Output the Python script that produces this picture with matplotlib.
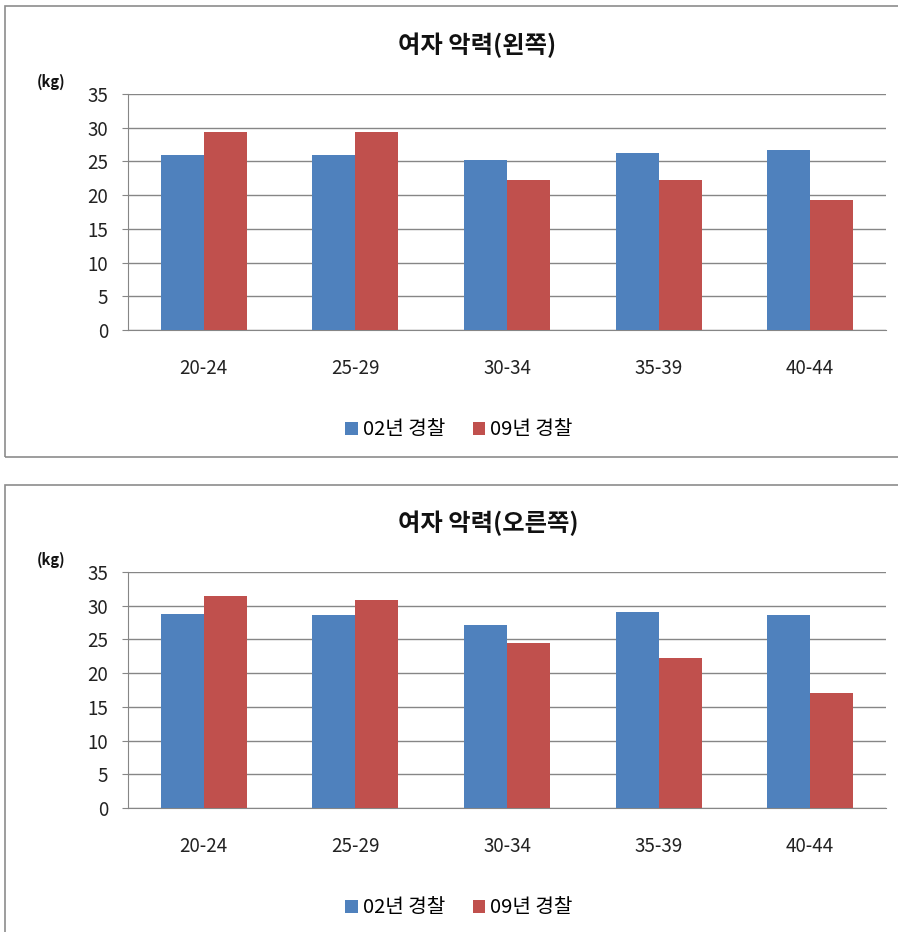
import matplotlib
matplotlib.use("Agg")
import matplotlib.pyplot as plt
from matplotlib.patches import Rectangle, Patch

plt.rcParams['font.family'] = ['Noto Sans CJK KR', 'DejaVu Sans']

# ---------------- Data ----------------
age_groups = ['20-24', '25-29', '30-34', '35-39', '40-44']
series_names = ['02년 경찰', '09년 경찰']
left_02 = [26.0, 26.0, 25.2, 26.2, 26.7]
left_09 = [29.4, 29.4, 22.3, 22.3, 19.3]
right_02 = [28.8, 28.6, 27.2, 29.1, 28.6]
right_09 = [31.4, 30.9, 24.5, 22.2, 17.0]
titles = ['여자 악력(왼쪽)', '여자 악력(오른쪽)']
y_ticks = [0, 5, 10, 15, 20, 25, 30, 35]
# --------------------------------------

BLUE = '#4F81BD'
RED = '#C0504D'
GRID = '#868686'
W, H = 898, 932

fig = plt.figure(figsize=(W / 100, H / 100), dpi=100)


def fx(x):
    return x / W


def fy(y):
    return 1 - y / H


def draw_chart(box_top, box_bottom, plot_top, plot_bottom, title, s02, s09):
    # outer chart frame (runs off the right edge like the screenshot)
    fig.patches.append(Rectangle((fx(5), fy(box_bottom)), fx(903) - fx(5),
                                 fy(box_top) - fy(box_bottom),
                                 transform=fig.transFigure, fill=False,
                                 edgecolor='#8c8c8c', linewidth=1.2))
    ax = fig.add_axes([fx(128), fy(plot_bottom), fx(886) - fx(128),
                       fy(plot_top) - fy(plot_bottom)])
    x = range(len(age_groups))
    bw = 0.284
    ax.bar([i - bw / 2 for i in x], s02, width=bw, color=BLUE, zorder=3)
    ax.bar([i + bw / 2 for i in x], s09, width=bw, color=RED, zorder=3)
    ax.set_xlim(-0.5, len(age_groups) - 0.5)
    ax.set_ylim(0, 35)
    ax.set_yticks(y_ticks)
    ax.set_xticks(list(x))
    ax.set_xticklabels(age_groups)
    ax.yaxis.grid(True, color=GRID, linewidth=1.0, zorder=0)
    ax.set_axisbelow(True)
    for s in ['top', 'right']:
        ax.spines[s].set_visible(False)
    ax.spines['left'].set_color(GRID)
    ax.spines['bottom'].set_color(GRID)
    ax.tick_params(axis='y', length=4.3, color=GRID, pad=10, labelsize=13.5,
                   labelcolor='#222222')
    ax.tick_params(axis='x', length=0, pad=20, labelsize=13.5,
                   labelcolor='#222222')
    fig.text(fx(398), fy(plot_top - 49), title, fontsize=17.5, fontweight='bold',
             ha='left', va='center', color='#111111')
    fig.text(fx(37), fy(plot_top - 12), '(kg)', fontsize=10.5, fontweight='bold',
             ha='left', va='center', color='#111111')
    handles = [Patch(facecolor=BLUE), Patch(facecolor=RED)]
    fig.legend(handles, series_names, loc='center',
               bbox_to_anchor=(fx(459), fy(plot_bottom + 100)), ncol=2,
               frameon=False, handlelength=0.6, handleheight=0.6,
               handletextpad=0.25, columnspacing=1.4, fontsize=14.5)


draw_chart(6, 457, 94, 330, titles[0], left_02, left_09)
draw_chart(485, 940, 572, 808, titles[1], right_02, right_09)

fig.savefig('out.png', dpi=100)
